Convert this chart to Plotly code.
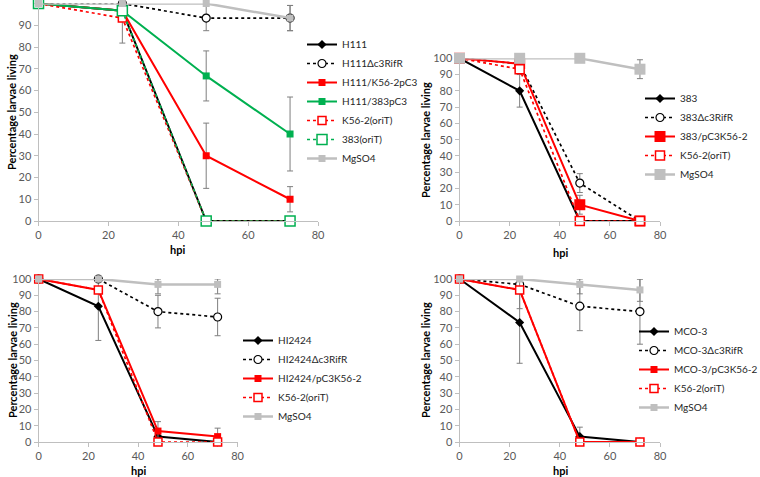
import plotly.graph_objects as go

hpi = [0, 24, 48, 72]

# Panel A (H111)
a_names = ["H111", "H111Δc3RifR", "H111/K56-2pC3", "H111/383pC3", "K56-2(oriT)", "383(oriT)", "MgSO4"]
a_vals = [[100, 96.7, 0, 0], [100, 100, 93.3, 93.3], [100, 96.7, 30, 10], [100, 96.7, 66.7, 40],
          [100, 93.3, 0, 0], [100, 96.7, 0, 0], [100, 100, 100, 93.3]]
a_errp = [[0, 0, 0, 0], [0, 0, 5.8, 5.8], [0, 0, 15, 5.8], [0, 0, 11.5, 17],
          [0, 6.7, 0, 0], [0, 0, 0, 0], [0, 0, 0, 5.8]]
a_errm = [[0, 0, 0, 0], [0, 0, 5.8, 5.8], [0, 0, 15, 5.8], [0, 0, 11.5, 17],
          [0, 11.5, 0, 0], [0, 0, 0, 0], [0, 0, 0, 5.8]]

# Panel B (383)
b_names = ["383", "383Δc3RifR", "383/pC3K56-2", "K56-2(oriT)", "MgSO4"]
b_vals = [[100, 80, 0, 0], [100, 96.7, 23.3, 0], [100, 96.7, 10, 0], [100, 93.3, 0, 0], [100, 100, 100, 93.3]]
b_errp = [[0, 10, 0, 0], [0, 0, 5.8, 0], [0, 0, 5.8, 0], [0, 0, 0, 0], [0, 0, 0, 5.8]]
b_errm = [[0, 10, 0, 0], [0, 0, 5.8, 0], [0, 0, 5.8, 0], [0, 0, 0, 0], [0, 0, 0, 5.8]]

# Panel C (HI2424)
c_names = ["HI2424", "HI2424Δc3RifR", "HI2424/pC3K56-2", "K56-2(oriT)", "MgSO4"]
c_vals = [[100, 83.3, 3.3, 0], [100, 100, 80, 76.7], [100, 93.3, 6.7, 3.3], [100, 93.3, 0, 0], [100, 100, 96.7, 96.7]]
c_errp = [[0, 16.7, 0, 0], [0, 0, 10, 11.5], [0, 0, 5.8, 5.2], [0, 0, 0, 0], [0, 0, 3.3, 3.3]]
c_errm = [[0, 21, 0, 0], [0, 0, 10, 11.5], [0, 0, 5.8, 3.3], [0, 0, 0, 0], [0, 0, 5.8, 5.8]]

# Panel D (MCO-3)
d_names = ["MCO-3", "MCO-3Δc3RifR", "MCO-3/pC3K56-2", "K56-2(oriT)", "MgSO4"]
d_vals = [[100, 73.3, 3.3, 0], [100, 96.7, 83.3, 80], [100, 93.3, 0, 0], [100, 93.3, 0, 0], [100, 100, 96.7, 93.3]]
d_errp = [[0, 25, 5.8, 0], [0, 0, 15, 20], [0, 0, 0, 0], [0, 6.7, 0, 0], [0, 0, 3.3, 6.7]]
d_errm = [[0, 25, 3.3, 0], [0, 0, 15, 20], [0, 0, 0, 0], [0, 11.5, 0, 0], [0, 0, 5.8, 7]]

a_kinds = ["wt", "mut", "red", "green", "redori", "greenori", "mg"]
bcd_kinds = ["wt", "mut", "red", "redori", "mg"]

W, H = 760, 477
RED, GREEN, GRAY, ERR = "#ff0000", "#00b050", "#bfbfbf", "#7f7f7f"
FONT = "Lato, Liberation Sans, sans-serif"


def style(kind, big=False):
    sq = 11 if big else 7
    if kind == "wt":
        return dict(line=dict(color="black", width=2), marker=dict(symbol="diamond", size=7, color="black"))
    if kind == "mut":
        return dict(line=dict(color="black", width=1.7, dash="dot"),
                    marker=dict(symbol="circle", size=8, color="white", line=dict(color="black", width=1.2)))
    if kind == "red":
        return dict(line=dict(color=RED, width=2), marker=dict(symbol="square", size=sq, color=RED))
    if kind == "green":
        return dict(line=dict(color=GREEN, width=2), marker=dict(symbol="square", size=7, color=GREEN))
    if kind == "redori":
        return dict(line=dict(color=RED, width=1.7, dash="dot"),
                    marker=dict(symbol="square", size=9 if big else 8, color="white", line=dict(color=RED, width=1.5)))
    if kind == "greenori":
        return dict(line=dict(color=GREEN, width=1.7, dash="dot"),
                    marker=dict(symbol="square", size=10, color="white", line=dict(color=GREEN, width=1.5)))
    return dict(line=dict(color=GRAY, width=2.5), marker=dict(symbol="square", size=sq, color=GRAY))


fig = go.Figure()

panels = [
    (a_names, a_vals, a_errp, a_errm, a_kinds, "x", "y", "legend", False),
    (b_names, b_vals, b_errp, b_errm, bcd_kinds, "x2", "y2", "legend2", True),
    (c_names, c_vals, c_errp, c_errm, bcd_kinds, "x3", "y3", "legend3", False),
    (d_names, d_vals, d_errp, d_errm, bcd_kinds, "x4", "y4", "legend4", False),
]

for names, vals, ep, em, kinds, xa, ya, leg, big in panels:
    for n, v, p, m, k in zip(names, vals, ep, em, kinds):
        st = style(k, big)
        fig.add_trace(go.Scatter(
            x=hpi, y=v, name=n, mode="lines+markers", xaxis=xa, yaxis=ya, legend=leg,
            line=st["line"], marker=st["marker"], cliponaxis=False,
            error_y=dict(type="data", array=p, arrayminus=m, color=ERR, thickness=1, width=3, symmetric=False),
        ))

# plot areas in pixels: (x0, x1, ytop, ybottom)
areas = {
    "": (38.5, 318, 3.5, 221),
    "2": (459.5, 660, 58.3, 221),
    "3": (38.7, 237.5, 279, 442),
    "4": (459.5, 660, 279, 442),
}

axis_common = dict(showgrid=False, zeroline=False, showline=True, linecolor=GRAY, linewidth=1,
                   ticks="outside", ticklen=4, tickcolor=GRAY,
                   tickfont=dict(family=FONT, size=11, color="#595959"))
layout = dict(width=W, height=H, margin=dict(l=0, r=0, t=0, b=0, autoexpand=False),
              paper_bgcolor="white", plot_bgcolor="white", font=dict(family=FONT))
for s, (x0, x1, yt, yb) in areas.items():
    layout["xaxis" + s] = dict(domain=[x0 / W, x1 / W], range=[0, 80], tickvals=[0, 20, 40, 60, 80],
                               anchor="y" + s, **axis_common)
    layout["yaxis" + s] = dict(domain=[1 - yb / H, 1 - yt / H], range=[0, 100], dtick=10,
                               anchor="x" + s, **axis_common)

leg_common = dict(font=dict(family=FONT, size=10, color="#262626"), bgcolor="rgba(0,0,0,0)",
                  xanchor="left", yanchor="top", tracegroupgap=0, itemclick=False)
legpos = {"legend": (302, 30), "legend2": (640, 84), "legend3": (238, 326), "legend4": (634, 317)}
for k, (lx, ly) in legpos.items():
    layout[k] = dict(x=lx / W, y=1 - ly / H, **leg_common)

fig.update_layout(**layout)

ann = []
titles_x = [(177, 249), (560, 252), (138, 470), (560, 470)]
for (tx, ty) in titles_x:
    ann.append(dict(text="<b>hpi</b>", x=tx / W, y=1 - ty / H, xref="paper", yref="paper",
                    showarrow=False, font=dict(family=FONT, size=11, color="black"),
                    xanchor="center", yanchor="middle"))
titles_y = [(12, 112), (425, 140), (12, 360), (425, 360)]
for (tx, ty) in titles_y:
    ann.append(dict(text="<b>Percentage larvae living</b>", x=tx / W, y=1 - ty / H, xref="paper", yref="paper",
                    showarrow=False, textangle=-90, font=dict(family=FONT, size=11, color="black"),
                    xanchor="center", yanchor="middle"))
fig.update_layout(annotations=ann)

fig.write_html("out.html", config={"displayModeBar": False},
               post_script="document.body.style.margin='0';")
